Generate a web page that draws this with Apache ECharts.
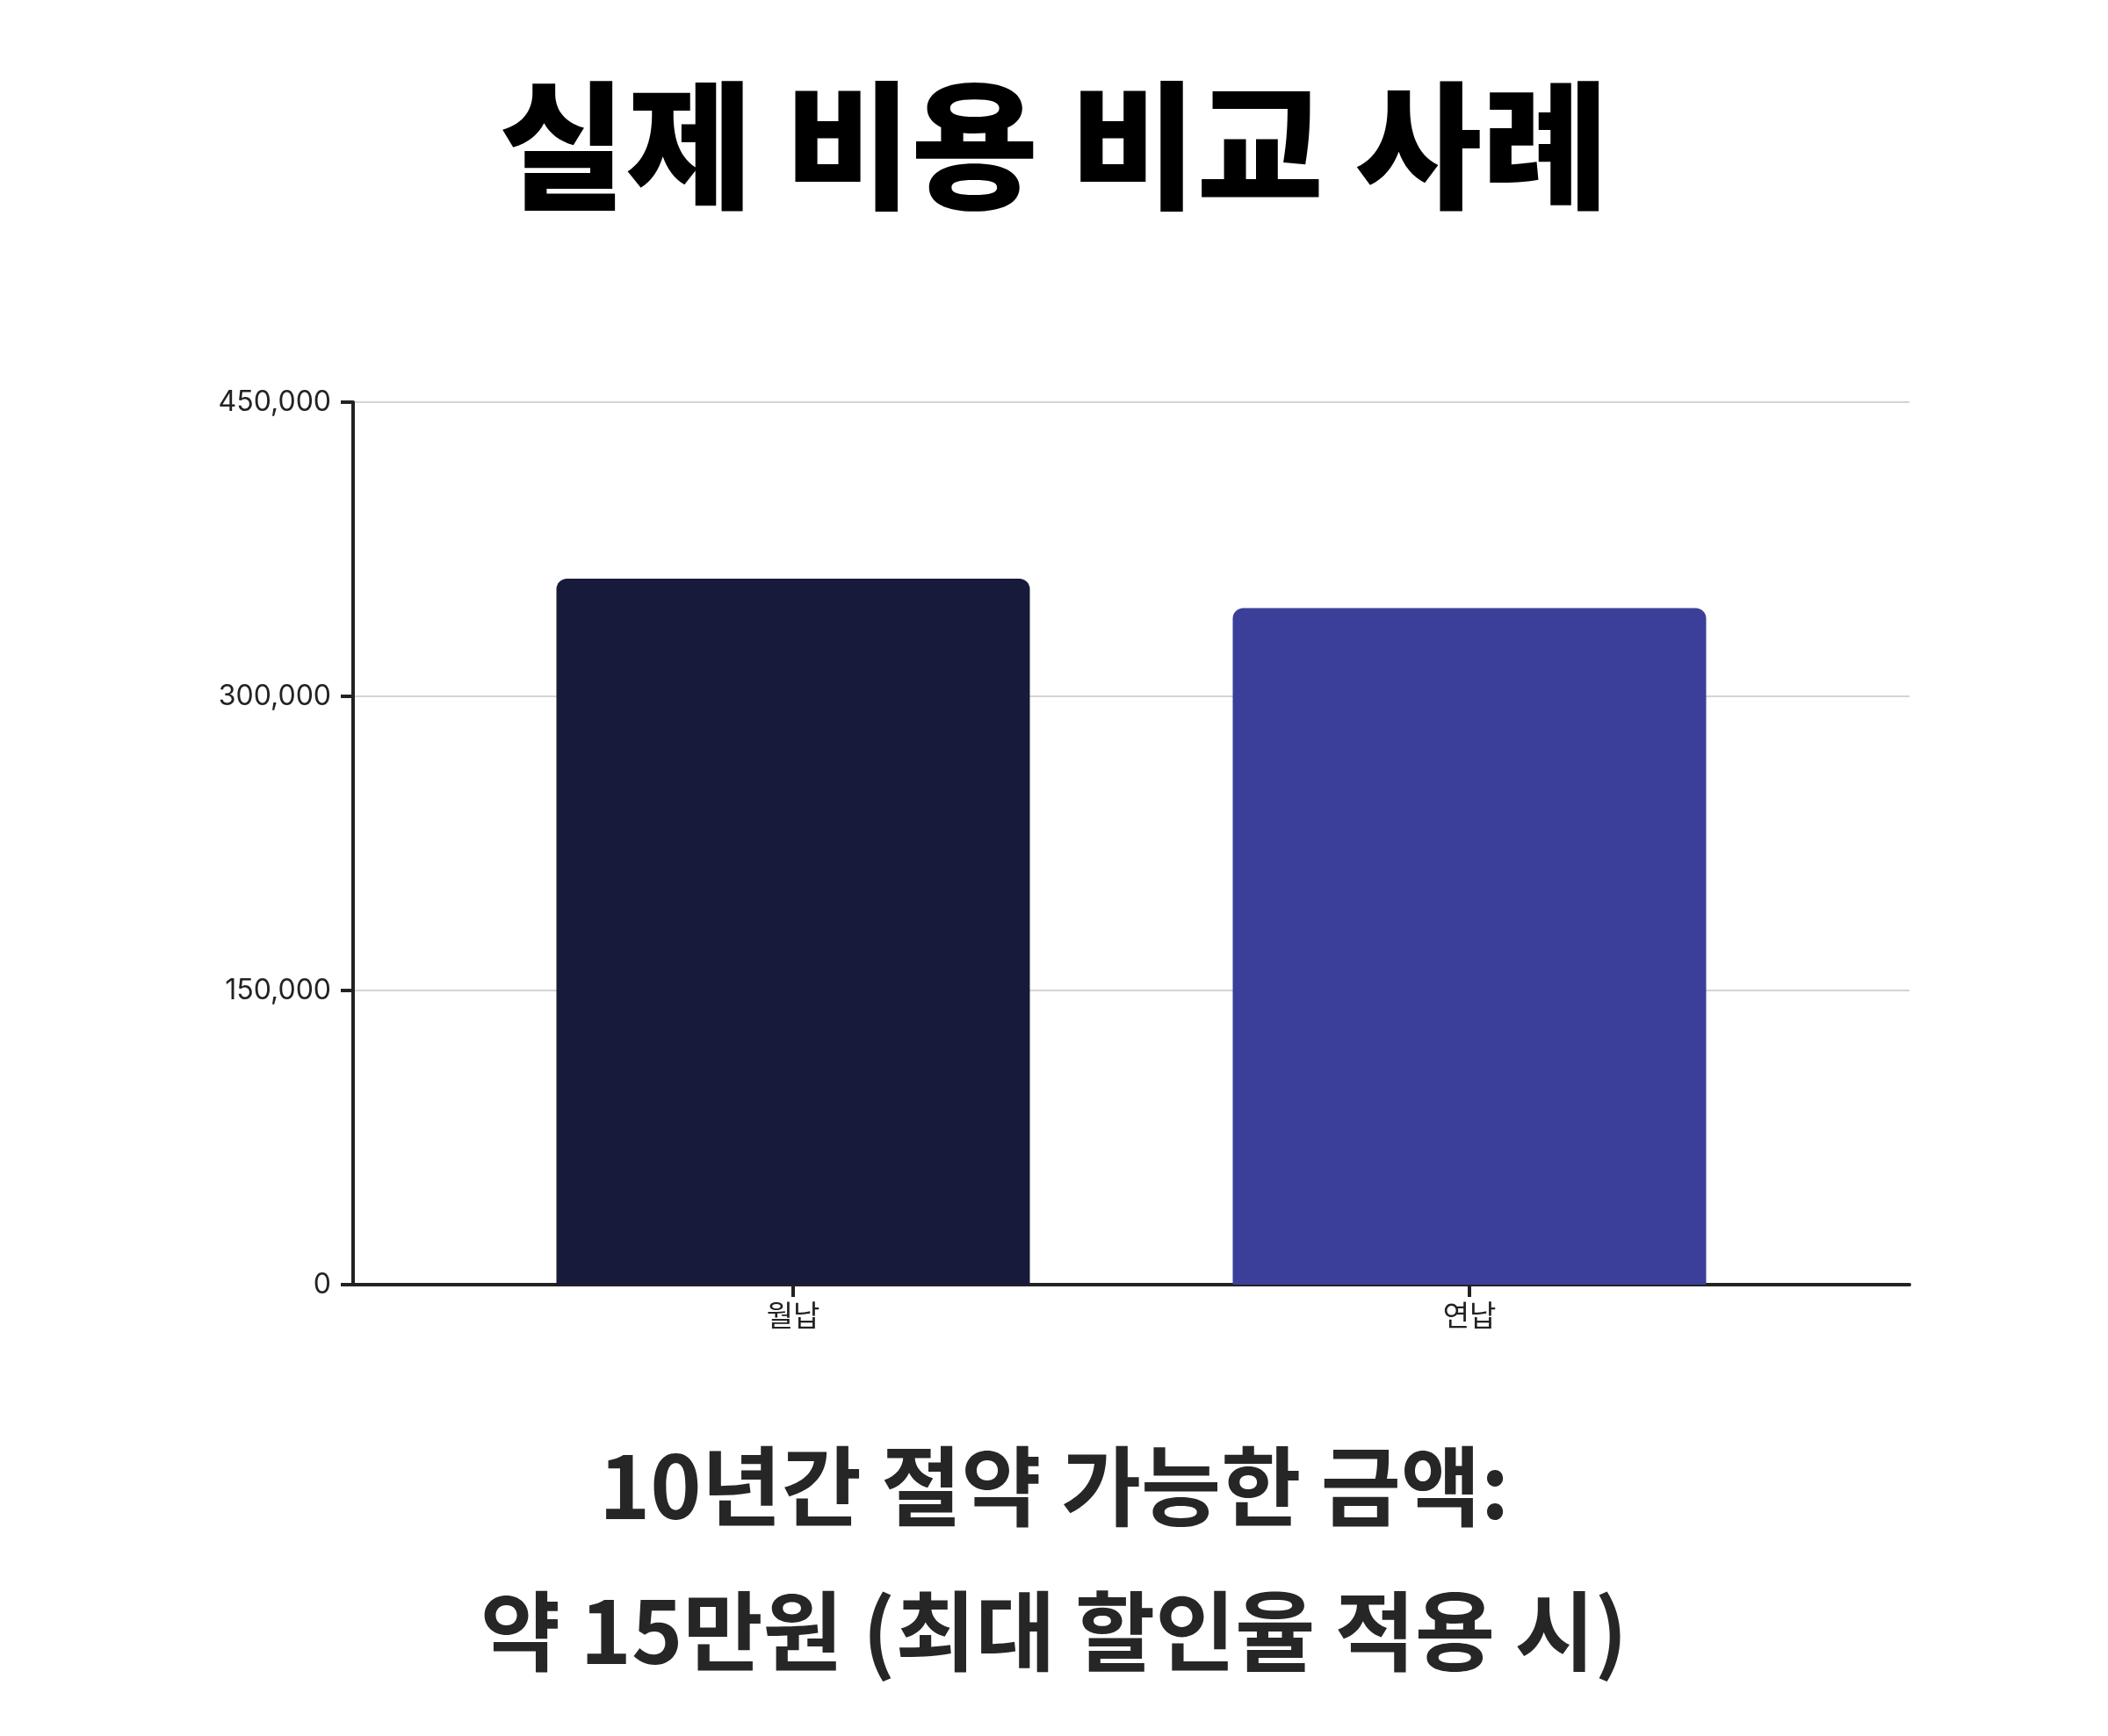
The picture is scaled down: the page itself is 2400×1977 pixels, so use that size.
<!DOCTYPE html>
<html>
<head>
<meta charset="utf-8">
<script src="https://cdn.jsdelivr.net/npm/echarts@6/dist/echarts.min.js"></script>
<style>
  html, body { margin: 0; padding: 0; background: #fff; }
  #main { width: 2400px; height: 1977px; }
</style>
</head>
<body>
<div id="main"></div>
<script>
var categories = ['월납', '연납'];
var costValues = [360000, 345000];
var barColors = ['#171a3a', '#3b3f9a'];
var yTicks = [0, 150000, 300000, 450000];
var titleText = '실제 비용 비교 사례';
var noteLines = ['10년간 절약 가능한 금액:', '약 15만원 (최대 할인율 적용 시)'];

var myChart = echarts.init(document.getElementById('main'));

var barData = [];
for (var i = 0; i < costValues.length; i++) {
    barData.push({
        value: costValues[i],
        itemStyle: { color: barColors[i] }
    });
}

var yMax = yTicks[yTicks.length - 1];
var yStep = yTicks[1] - yTicks[0];

// 아래 설명 문구 두 줄
var noteY = [1692, 1857];
var notes = [];
for (var j = 0; j < noteLines.length; j++) {
    notes.push({
        type: 'text',
        x: 1200,
        y: noteY[j],
        style: {
            text: noteLines[j],
            fontFamily: 'Noto Sans CJK KR',
            fontSize: 99,
            fontWeight: 700,
            fill: '#262626',
            align: 'center',
            verticalAlign: 'middle'
        }
    });
}

option = {
    backgroundColor: '#fff',
    animation: false,
    title: {
        text: titleText,
        left: 'center',
        top: 82,
        textStyle: {
            fontFamily: 'Noto Sans CJK KR',
            fontSize: 157,
            fontWeight: 900,
            color: '#000'
        }
    },
    graphic: notes,
    grid: [
        // frame: y axis, gridlines, baseline
        { left: 402, right: 226, top: 458, bottom: 514 },
        // bars, placed like a padded band scale
        { left: 518, right: 342, top: 458, bottom: 514 }
    ],
    xAxis: [
        {
            gridIndex: 0,
            type: 'category',
            data: categories,
            axisLine: { show: true, lineStyle: { color: '#222', width: 4 } },
            axisTick: { show: false },
            axisLabel: { show: false },
            splitLine: { show: false }
        },
        {
            gridIndex: 1,
            type: 'category',
            data: categories,
            axisLine: { show: false },
            axisTick: {
                show: true,
                alignWithLabel: true,
                length: 14,
                lineStyle: { color: '#222', width: 4 }
            },
            axisLabel: {
                margin: 18,
                fontFamily: 'Noto Sans CJK KR',
                fontSize: 33,
                color: '#222'
            }
        }
    ],
    yAxis: [
        {
            gridIndex: 0,
            type: 'value',
            min: 0,
            max: yMax,
            interval: yStep,
            axisLine: { show: true, lineStyle: { color: '#222', width: 4 } },
            axisTick: { show: true, length: 14, lineStyle: { color: '#222', width: 4 } },
            axisLabel: {
                margin: 25,
                fontFamily: 'Inter',
                fontSize: 32,
                color: '#222',
                formatter: function (v) { return v.toLocaleString('en-US'); }
            },
            splitLine: { show: true, lineStyle: { color: '#d4d4d4', width: 2 } }
        },
        {
            gridIndex: 1,
            type: 'value',
            min: 0,
            max: yMax,
            interval: yStep,
            show: false
        }
    ],
    series: [
        {
            type: 'bar',
            xAxisIndex: 1,
            yAxisIndex: 1,
            barCategoryGap: '30%',
            itemStyle: { borderRadius: [12, 12, 0, 0] },
            data: barData
        }
    ]
};
myChart.setOption(option);
</script>
</body>
</html>
